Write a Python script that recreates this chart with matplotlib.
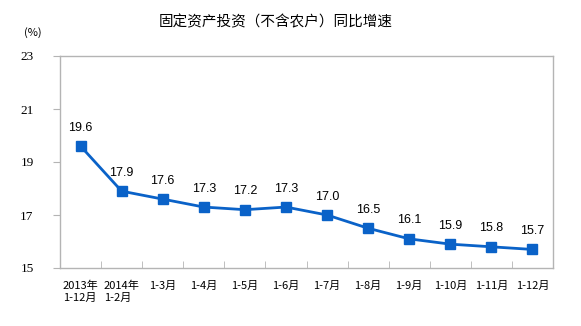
import matplotlib
matplotlib.use('Agg')
import matplotlib.pyplot as plt
import numpy as np

plt.rcParams['font.family'] = ['Noto Sans CJK SC', 'DejaVu Sans']

periods = ['2013年\n1-12月', '2014年\n1-2月', '1-3月', '1-4月', '1-5月', '1-6月',
           '1-7月', '1-8月', '1-9月', '1-10月', '1-11月', '1-12月']
growth = [19.6, 17.9, 17.6, 17.3, 17.2, 17.3, 17.0, 16.5, 16.1, 15.9, 15.8, 15.7]
yticks = [15, 17, 19, 21, 23]

line_color = '#0a62c8'
frame_color = '#b4b4b4'

fig = plt.figure(figsize=(5.81, 3.26), dpi=100)
ax = fig.add_axes([60 / 581, 1 - 268 / 326, 493 / 581, 212 / 326])

x = np.arange(len(growth))
ax.plot(x, growth, color=line_color, lw=2, marker='s', ms=6.5,
        mfc=line_color, mec=line_color, zorder=3)
for xi, v in zip(x, growth):
    ax.annotate(f'{v:.1f}', (xi, v), xytext=(0, 9), textcoords='offset points',
                ha='center', va='bottom', fontsize=9, family='Liberation Sans')

ax.set_xlim(-0.5, len(growth) - 0.5)
ax.set_ylim(15, 23)
ax.set_yticks(yticks)
ax.set_yticklabels([str(t) for t in yticks], family='Liberation Serif', fontsize=9.5)
ax.tick_params(axis='y', direction='out', length=5, color=frame_color, pad=14)

# category ticks sit between the points, pointing into the plot
ax.set_xticks(np.arange(len(growth) + 1) - 0.5, minor=True)
ax.set_xticks(x)
ax.set_xticklabels(periods, fontsize=8, linespacing=1.3, va='top',
                   multialignment='left')
ax.tick_params(axis='x', which='major', length=0, pad=9)
ax.tick_params(axis='x', which='minor', direction='in', length=5, color=frame_color)

for s in ax.spines.values():
    s.set_color(frame_color)
    s.set_linewidth(1)

fig.text(276 / 581, 1 - 22 / 326, '固定资产投资（不含农户）同比增速',
         ha='center', va='center', fontsize=10.5)
fig.text(33 / 581, 1 - 33 / 326, '(%)', ha='center', va='center', fontsize=8)

fig.savefig('out.png', dpi=100)
